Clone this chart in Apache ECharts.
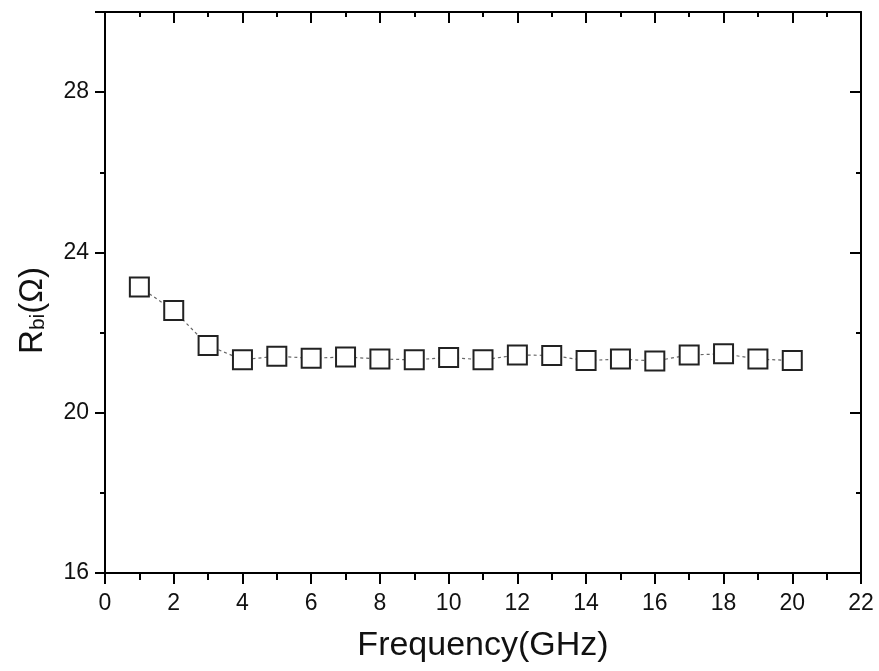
<!DOCTYPE html>
<html>
<head>
<meta charset="utf-8">
<script src="https://cdn.jsdelivr.net/npm/echarts@6/dist/echarts.min.js"></script>
<style>
html,body{margin:0;padding:0;background:#fff;}
#chart{width:879px;height:671px;}
</style>
</head>
<body>
<div id="chart"></div>
<script>
const frequency = [1,2,3,4,5,6,7,8,9,10,11,12,13,14,15,16,17,18,19,20];
const rbi = [23.14,22.55,21.68,21.32,21.41,21.36,21.39,21.34,21.32,21.38,21.32,21.44,21.43,21.30,21.34,21.29,21.44,21.47,21.34,21.30];
const xTicks = [0,2,4,6,8,10,12,14,16,18,20,22];
const yTicks = [16,20,24,28];

const chart = echarts.init(document.getElementById('chart'));
const font = 'Liberation Sans, Arial, sans-serif';
const axisLine = {show:true, onZero:false, lineStyle:{color:'#000', width:2}};
const noLine = {show:false, onZero:false};
function tickAxis(base, position, interval, inside, length, showLine) {
  return Object.assign({
    type:'value', position:position, interval:interval,
    axisLine: showLine ? axisLine : noLine,
    axisTick:{show:true, inside:inside, length:length, lineStyle:{color:'#000', width:2}},
    splitLine:{show:false}, axisLabel:{show:false}
  }, base);
}
const xBase = {min:0, max:22};
const yBase = {min:16, max:30};
chart.setOption({
  animation:false,
  backgroundColor:'#fff',
  grid:{left:105, right:18, top:12, bottom:98, containLabel:false},
  xAxis:[{
    type:'value', min:0, max:22, interval:2, position:'bottom',
    axisLine:axisLine,
    axisTick:{show:true, inside:false, length:11, lineStyle:{color:'#000', width:2}},
    splitLine:{show:false},
    axisLabel:{color:'#111', fontSize:23, fontFamily:font, margin:19,
      formatter:v => xTicks.includes(v) ? String(v) : ''},
    name:'Frequency(GHz)', nameLocation:'middle', nameGap:56,
    nameTextStyle:{color:'#111', fontSize:34, fontFamily:font}
  },
  tickAxis(xBase, 'bottom', 1, false, 7, false),
  tickAxis(xBase, 'top', 2, true, 11, true),
  tickAxis(xBase, 'top', 1, true, 5, false)
  ],
  yAxis:[{
    type:'value', min:16, max:30, interval:4, position:'left',
    axisLine:axisLine,
    axisTick:{show:true, inside:false, length:10, lineStyle:{color:'#000', width:2}},
    splitLine:{show:false},
    axisLabel:{color:'#111', fontSize:23, fontFamily:font, margin:16,
      formatter:v => yTicks.includes(v) ? String(v) : ''},
    name:'{r|R}{s|bi}{r|(Ω)}', nameLocation:'middle', nameGap:56, nameRotate:90,
    nameTextStyle:{color:'#111', fontFamily:font, padding:[0,0,0,-36],
      rich:{
        r:{fontSize:33, fontFamily:font, color:'#111', lineHeight:36, verticalAlign:'bottom'},
        s:{fontSize:21, fontFamily:font, color:'#111', lineHeight:8, verticalAlign:'bottom'}
      }}
  },
  tickAxis(yBase, 'left', 2, false, 5, false),
  tickAxis(yBase, 'right', 4, true, 11, true),
  tickAxis(yBase, 'right', 2, true, 5, false)
  ],
  series:[{
    type:'line', xAxisIndex:0, yAxisIndex:0,
    data: frequency.map((f,i)=>[f, rbi[i]]),
    symbol:'rect', symbolSize:19,
    itemStyle:{color:'#fff', borderColor:'#222', borderWidth:2},
    lineStyle:{color:'#666', width:1.2, type:[3,3]},
    z:3
  }]
});
</script>
</body>
</html>
